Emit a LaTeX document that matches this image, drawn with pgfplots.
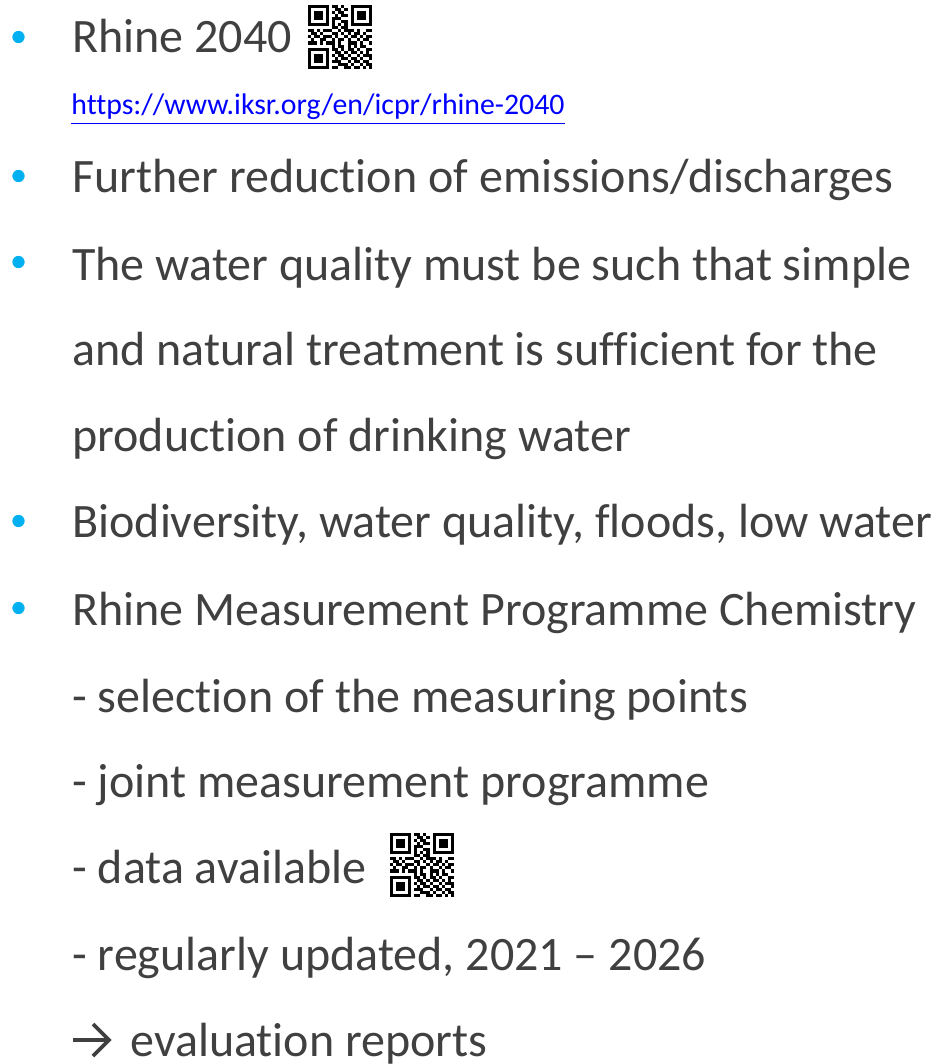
\documentclass[border=0pt]{standalone}
\usepackage{pgfplots}
\pgfplotsset{compat=1.18}
\usepackage{fontspec}
\setmainfont{Carlito}[RawFeature=-liga]
\definecolor{txt}{HTML}{404040}
\definecolor{bul}{HTML}{00B0F0}
\definecolor{lnk}{HTML}{0000FF}
\tikzset{t/.style={inner sep=0pt, anchor=base west, text=txt,
    font=\fontsize{24}{28}\selectfont}}

% draw one row of QR modules from a 0/1 string
\def\qrrow#1#2{\def\qrr{#1}\def\qrc{0}\expandafter\qrrowA#2\relax}
\def\qrrowA#1{\ifx#1\relax\else
  \ifnum#1=1 \fill (\qrc,\qrr) rectangle ++(1,1);\fi
  \pgfmathtruncatemacro\qrc{\qrc+1}\expandafter\qrrowA\fi}
\newcommand\qrcode{%
  \foreach \rw [count=\r from 0] in {
    111111101101001111111,100000100110101000001,101110101011001011101,
    101110100101101011101,101110101110001011101,100000101001101000001,
    111111101010101111111,000000001101100000000,110101110010111010011,
    011010001101010110100,101101110100101101011,010011001011010010110,
    111010111010011101001,000000001011010101100,111111101101011010011,
    100000100110101101010,101110101011010010111,101110100101101101001,
    101110101110010110110,100000100011101001011,111111101100110110101}
  {\qrrow{\r}{\rw}}}

\begin{document}
\begin{tikzpicture}
\begin{axis}[name=ax, x=0.5pt, y=0.5pt, xmin=0, xmax=934, ymin=0, ymax=1064,
  y dir=reverse, hide axis, clip=false, scale only axis]
\addplot[only marks, mark=*, mark size=2.85pt, color=bul, draw=none]
  coordinates {(18.5,37) (18.5,176) (18.5,262) (18.5,521) (18.5,608)};
\node[t] at (axis cs:72,53) {Rhine 2040};
\node[t, text=lnk, font=\fontsize{14.9}{18}\selectfont] at (axis cs:71,115)
  {\underline{https://www.iksr.org/en/icpr/rhine-2040}};
\node[t] at (axis cs:72,192) {Further reduction of emissions/discharges};
\node[t] at (axis cs:72,280) {The water quality must be such that simple};
\node[t] at (axis cs:72,365) {and natural treatment is sufficient for the};
\node[t] at (axis cs:72,451) {production of drinking water};
\node[t] at (axis cs:72,537) {Biodiversity, water quality, floods, low water};
\node[t] at (axis cs:72,625) {Rhine Measurement Programme Chemistry};
\node[t] at (axis cs:72,712) {- selection of the measuring points};
\node[t] at (axis cs:72,797) {- joint measurement programme};
\node[t] at (axis cs:72,883) {- data available};
\node[t] at (axis cs:72,970) {- regularly updated, 2021 – 2026};
\draw[txt, line width=1.9pt, line cap=butt] (axis cs:73,1040) -- (axis cs:108,1040);
\draw[txt, line width=1.9pt, line join=miter] (axis cs:93,1024) -- (axis cs:109,1040) -- (axis cs:93,1056);
\node[t] at (axis cs:130,1056) {evaluation reports};
\end{axis}
\begin{scope}[shift={(ax.north west)}, shift={(154pt,-2.5pt)}, x=1.52pt, y=-1.52pt]
  \qrcode
\end{scope}
\begin{scope}[shift={(ax.north west)}, shift={(195pt,-416.5pt)}, x=1.52pt, y=-1.52pt]
  \qrcode
\end{scope}
\pgfresetboundingbox
\path[use as bounding box] (ax.south west) rectangle (ax.north east);
\end{tikzpicture}
\end{document}
